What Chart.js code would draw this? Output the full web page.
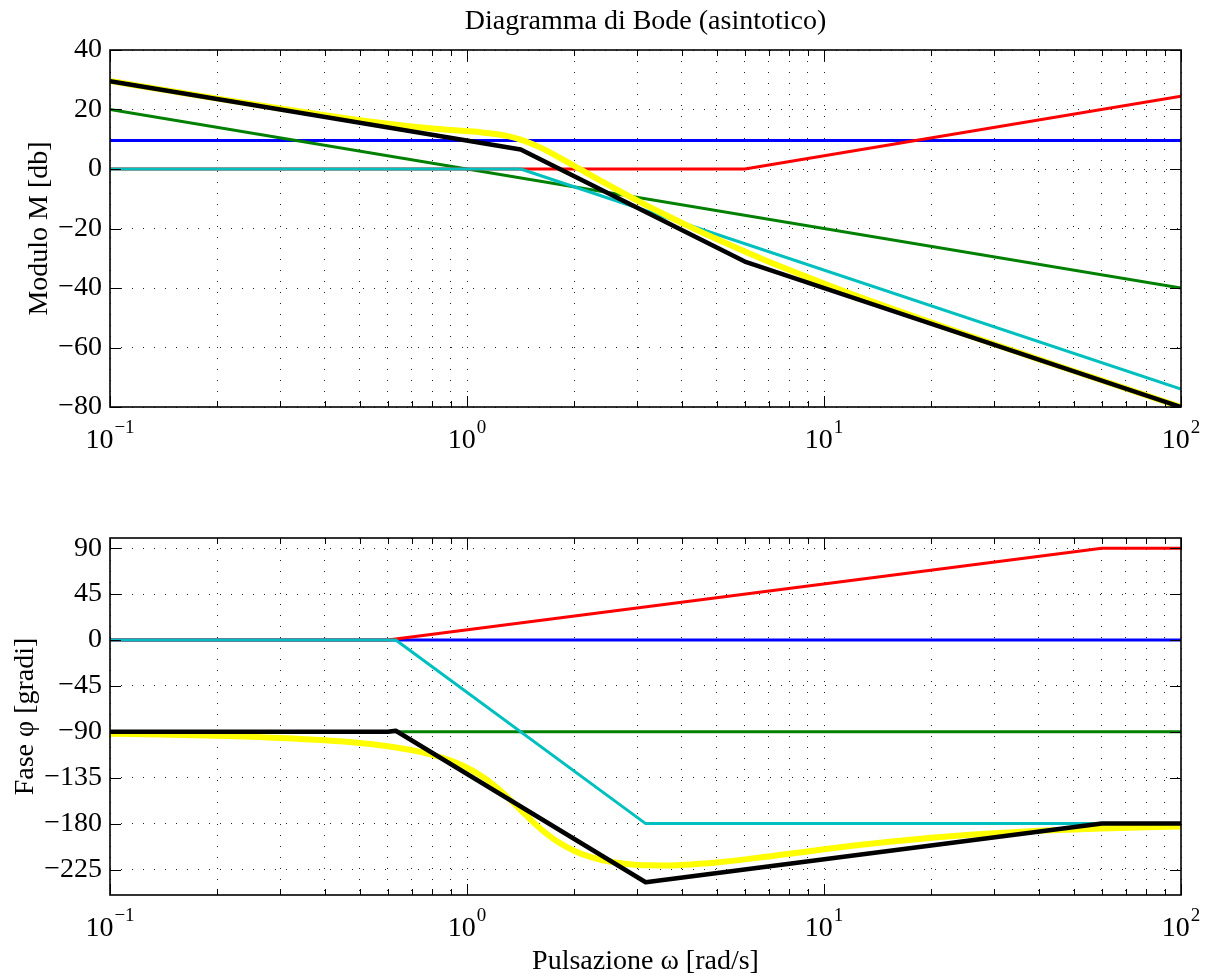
<!DOCTYPE html>
<html><head><meta charset="utf-8">
<script src="https://cdn.jsdelivr.net/npm/chart.js@4/dist/chart.umd.min.js"></script>
<style>
html,body{margin:0;padding:0;background:#fff;}
#wrap{position:relative;width:1211px;height:976px;background:#fff;}
canvas{position:absolute;left:0;}
</style></head><body>
<div id="wrap">
<canvas id="mag" width="1211" height="488" style="top:0;width:1211px;height:488px"></canvas>
<canvas id="pha" width="1211" height="488" style="top:488px;width:1211px;height:488px"></canvas>
</div>
<script>
// ---------- text ----------
const chartTitle = 'Diagramma di Bode (asintotico)';
const magAxisTitle = 'Modulo M [db]';
const phaseAxisTitle = 'Fase φ [gradi]';
const freqAxisTitle = 'Pulsazione ω [rad/s]';

// ---------- axis ticks ----------
const freqDecades = [0.1, 1, 10, 100];
const freqDecadeExp = ['−1', '0', '1', '2'];
const freqGridTicks = [0.1,0.2,0.3,0.4,0.5,0.6,0.7,0.8,0.9,1,2,3,4,5,6,7,8,9,10,20,30,40,50,60,70,80,90,100];
const magTicks = [-80, -60, -40, -20, 0, 20, 40];
const phaseTicks = [-225, -180, -135, -90, -45, 0, 45, 90];

// ---------- magnitude (dB) ----------
const magGainW = [0.1, 100];
const magGain = [9.54, 9.54];
const magIntW = [0.1, 100];
const magInt = [20, -40];
const magZeroW = [0.1, 6, 100];
const magZero = [0, 0, 24.44];
const magPoleW = [0.1, 1.414, 100];
const magPole = [0, 0, -73.99];
const magTotW = [0.1, 1.414, 6, 100];
const magTot = [29.54, 6.53, -31.13, -80.0];

// exact response
const exactW = [0.1,0.15,0.2,0.3,0.4,0.5,0.6,0.7,0.8,0.9,1.0,1.1,1.2,1.3,1.4,1.5,1.6,1.8,2.0,2.25,2.5,2.8,3.2,3.6,4,4.5,5,6,7,8,10,12,15,20,25,30,40,50,60,80,100];
const exactMag = [29.58,26.10,23.66,20.31,18.05,16.42,15.21,14.31,13.64,13.13,12.72,12.30,11.78,11.05,10.03,8.75,7.27,4.10,1.01,-2.48,-5.54,-8.74,-12.37,-15.46,-18.14,-21.04,-23.56,-27.75,-31.14,-33.98,-38.53,-42.11,-46.34,-51.64,-55.65,-58.90,-63.98,-67.89,-71.08,-76.10,-79.98];
const exactPhase = [-91.89,-92.86,-93.86,-95.98,-98.33,-101.03,-104.20,-108.00,-112.62,-118.30,-125.25,-133.65,-143.45,-154.24,-165.22,-175.52,-184.54,-198.13,-206.86,-213.41,-217.17,-219.59,-220.90,-221.03,-220.52,-219.41,-218.05,-215.09,-212.21,-209.59,-205.19,-201.79,-197.99,-193.85,-191.23,-189.42,-187.11,-185.71,-184.77,-183.58,-182.87];

// ---------- phase (deg) ----------
const phGainW = [0.1, 100];
const phGain = [0, 0];
const phIntW = [0.1, 100];
const phInt = [-90, -90];
const phZeroW = [0.1, 0.6, 60, 100];
const phZero = [0, 0, 90, 90];
const phPoleW = [0.1, 0.6317, 3.166, 100];
const phPole = [0, 0, -180, -180];
const phTotW = [0.1, 0.6, 0.6317, 3.166, 60, 100];
const phTot = [-90, -90, -89, -237.5, -180, -180];

// ---------- helpers ----------
const FONT = "'Liberation Serif', 'Times New Roman', Times, serif";
const pts = (xs, ys) => xs.map((x, i) => ({x, y: ys[i]}));
const minusFmt = v => (v < 0 ? '−' + Math.abs(v) : String(v));

function ds(xs, ys, color, width) {
  return {data: pts(xs, ys), borderColor: color, backgroundColor: color, borderWidth: width,
          pointRadius: 0, pointHoverRadius: 0, fill: false, tension: 0,
          borderJoinStyle: 'round', borderCapStyle: 'butt'};
}

const framePlugin = {
  id: 'matlabFrame',
  afterDatasetsDraw(chart) {
    const {ctx, chartArea: a, scales: {x, y}} = chart;
    ctx.save();
    ctx.strokeStyle = '#000';
    ctx.lineWidth = 1;
    const seg = (x1, y1, x2, y2) => { ctx.beginPath(); ctx.moveTo(x1, y1); ctx.lineTo(x2, y2); ctx.stroke(); };
    x.ticks.forEach(t => {
      const px = Math.round(x.getPixelForValue(t.value)) + 0.5;
      const len = t.major ? 11 : 6;
      seg(px, a.bottom, px, a.bottom - len);
      seg(px, a.top, px, a.top + len);
    });
    y.ticks.forEach(t => {
      const py = Math.round(y.getPixelForValue(t.value)) + 0.5;
      seg(a.left, py, a.left + 11, py);
      seg(a.right, py, a.right - 11, py);
    });
    ctx.lineWidth = 1.6;
    ctx.strokeRect(a.left, a.top, a.right - a.left, a.bottom - a.top);
    // decade labels 10^n
    ctx.fillStyle = '#000';
    ctx.textBaseline = 'alphabetic';
    ctx.textAlign = 'left';
    freqDecades.forEach((v, i) => {
      const px = x.getPixelForValue(v);
      ctx.font = '28px ' + FONT;
      const wb = ctx.measureText('10').width;
      ctx.font = '19px ' + FONT;
      const we = ctx.measureText(freqDecadeExp[i]).width;
      const start = px - (wb + we + 1) / 2;
      const base = a.bottom + 41;
      ctx.font = '28px ' + FONT;
      ctx.fillText('10', start, base);
      ctx.font = '19px ' + FONT;
      ctx.fillText(freqDecadeExp[i], start + wb + 1, base - 15);
    });
    ctx.restore();
  }
};

function makeOptions(yMin, yMax, yTicks, yTitle, yTitlePad, showXTitle, showTitle) {
  return {
    responsive: false, animation: false, devicePixelRatio: 1,
    layout: {padding: {left: 0, right: 30, top: showTitle ? 0 : 50, bottom: 0}},
    plugins: {
      legend: {display: false}, tooltip: {enabled: false},
      title: {display: showTitle, text: chartTitle, fullSize: false, color: '#000',
              font: {family: FONT, size: 28, weight: 'normal', lineHeight: 1.2},
              padding: {top: 5, bottom: 11.4}}
    },
    scales: {
      x: {
        type: 'logarithmic', min: 0.1, max: 100,
        afterBuildTicks: s => { s.ticks = freqGridTicks.map(v => ({value: v, major: freqDecades.includes(v)})); },
        afterFit: s => { s.height = 81; },
        ticks: {display: false},
        grid: {color: '#222', lineWidth: 1, drawTicks: false},
        border: {display: false, dash: [1, 10]},
        title: {display: showXTitle, text: freqAxisTitle, color: '#000',
                font: {family: FONT, size: 28, weight: 'normal', lineHeight: 1},
                padding: {top: 0, bottom: 0}}
      },
      y: {
        type: 'linear', min: yMin, max: yMax,
        afterBuildTicks: s => { s.ticks = yTicks.map(v => ({value: v})); },
        afterFit: s => { s.width = 110; },
        ticks: {color: '#000', padding: 8, font: {family: FONT, size: 28}, callback: minusFmt, autoSkip: false},
        grid: {color: '#222', lineWidth: 1, drawTicks: false},
        border: {display: false, dash: [1, 10]},
        title: {display: true, text: yTitle, color: '#000',
                font: {family: FONT, size: 28, weight: 'normal', lineHeight: 1},
                padding: {top: yTitlePad, bottom: 0}}
      }
    }
  };
}

new Chart(document.getElementById('mag'), {
  type: 'line',
  data: {datasets: [
    ds(magTotW, magTot, '#000000', 4.5),
    Object.assign(ds(exactW, exactMag, '#FFFF00', 6), {cubicInterpolationMode: 'monotone'}),
    ds(magPoleW, magPole, '#00BFBF', 3),
    ds(magZeroW, magZero, '#FF0000', 3),
    ds(magIntW, magInt, '#008000', 3),
    ds(magGainW, magGain, '#0000FF', 3)
  ]},
  options: makeOptions(-80, 40, magTicks, magAxisTitle, 26, false, true),
  plugins: [framePlugin]
});

new Chart(document.getElementById('pha'), {
  type: 'line',
  data: {datasets: [
    ds(phTotW, phTot, '#000000', 4.5),
    Object.assign(ds(exactW, exactPhase, '#FFFF00', 6), {cubicInterpolationMode: 'monotone'}),
    ds(phPoleW, phPole, '#00BFBF', 3),
    ds(phZeroW, phZero, '#FF0000', 3),
    ds(phIntW, phInt, '#008000', 3),
    ds(phGainW, phGain, '#0000FF', 3)
  ]},
  options: makeOptions(-250, 100, phaseTicks, phaseAxisTitle, 12, true, false),
  plugins: [framePlugin]
});
</script>
</body></html>
